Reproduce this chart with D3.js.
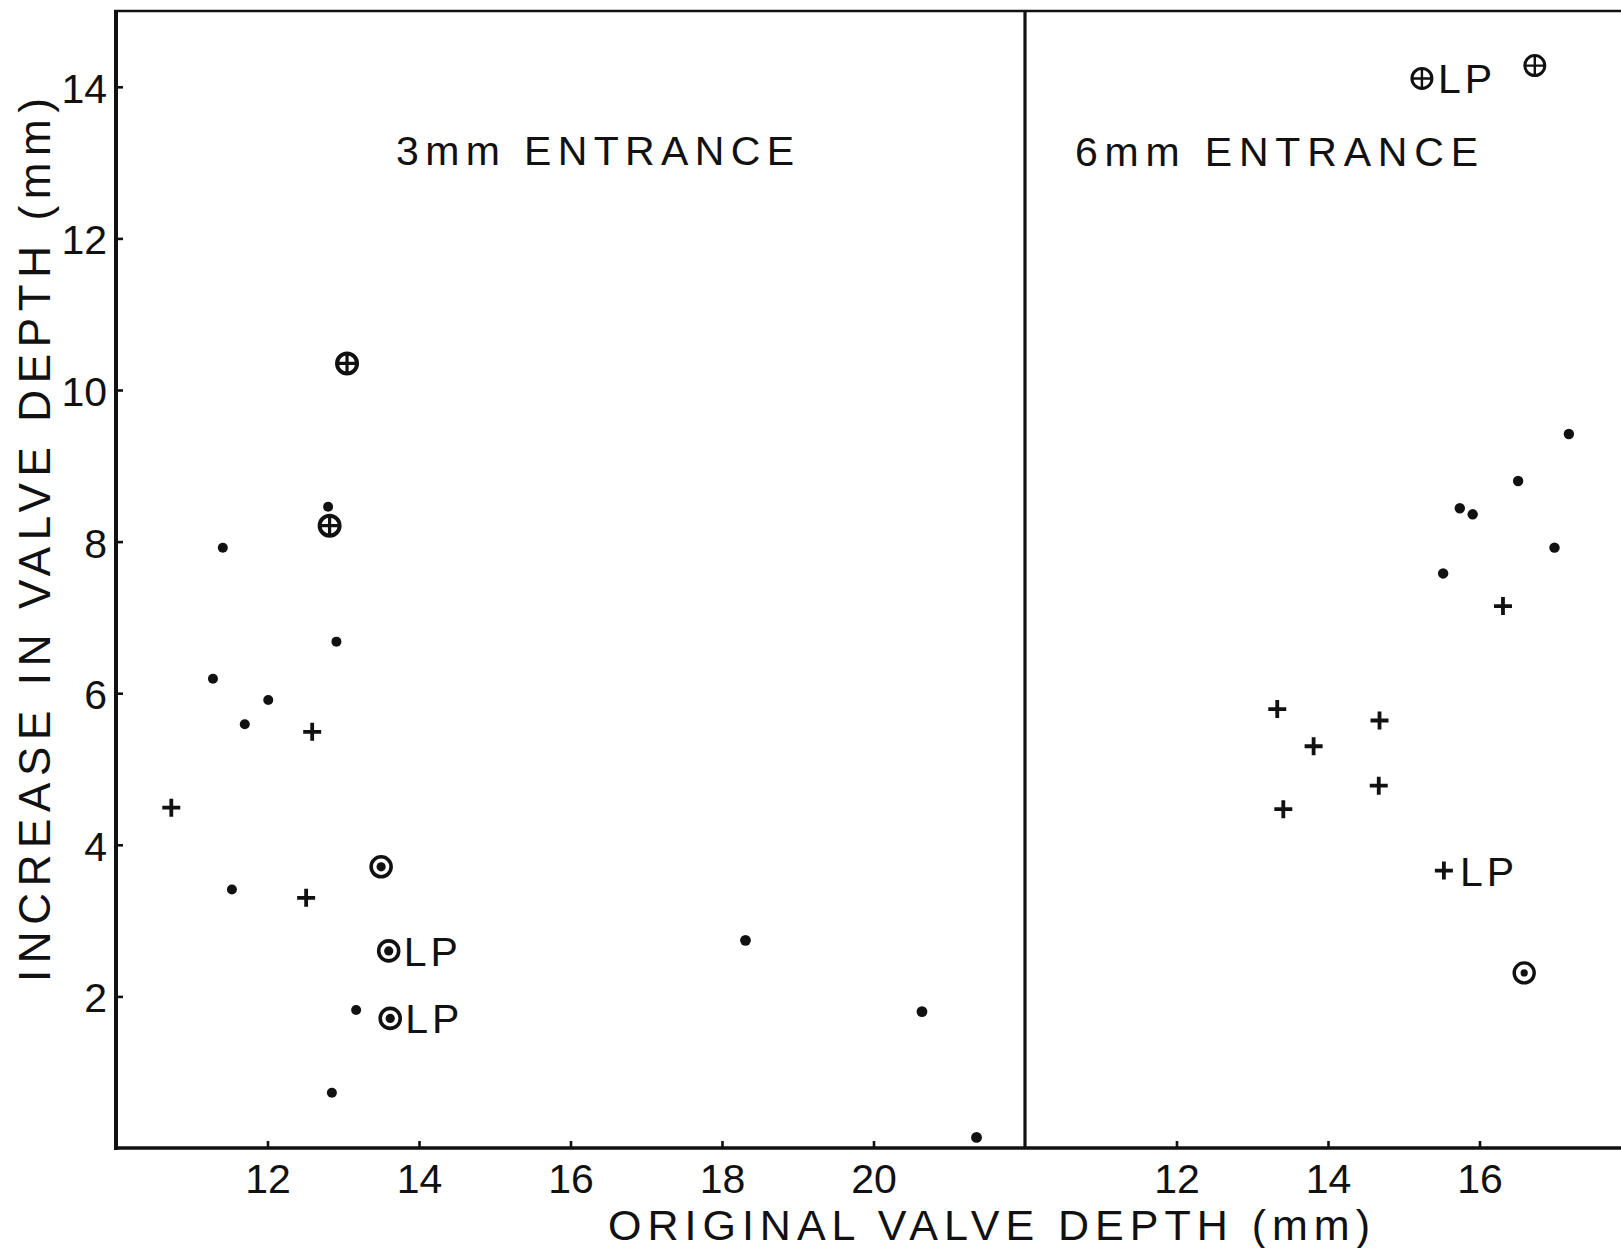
<!DOCTYPE html>
<html>
<head>
<meta charset="utf-8">
<script src="https://cdn.jsdelivr.net/npm/d3@7/dist/d3.min.js"></script>
<style>
  html, body { margin: 0; padding: 0; background: #fff; }
  svg { display: block; }
  text { font-family: "Liberation Sans", "DejaVu Sans", sans-serif; fill: #111; }
</style>
</head>
<body>
<svg id="chart" width="1621" height="1248"></svg>
<script>
// ---- Data: [original depth, increase in depth, label] ----
// 3 mm entrance panel
const dots3mm = [
  [12.80, 8.46], [11.41, 7.92], [12.91, 6.68], [11.28, 6.19], [12.01, 5.91],
  [11.70, 5.59], [11.53, 3.41], [13.17, 1.82], [12.85, 0.73],
  [18.31, 2.74], [20.64, 1.80], [21.36, 0.14]
];
const plus3mm = [[12.59, 5.49], [10.73, 4.49], [12.51, 3.30]];
const crossCircle3mm = [[13.05, 10.35], [12.82, 8.21]];
const dotCircle3mm = [[13.50, 3.71], [13.60, 2.60, "LP"], [13.62, 1.71, "LP"]];

// 6 mm entrance panel
const dots6mm = [[17.18, 9.42], [16.51, 8.80], [15.74, 8.44], [15.91, 8.36], [16.99, 7.92], [15.52, 7.58]];
const plus6mm = [
  [16.31, 7.15], [13.33, 5.79], [14.68, 5.64], [13.81, 5.30],
  [14.67, 4.78], [13.41, 4.47], [15.53, 3.66, "LP"]
];
const crossCircle6mm = [[15.24, 14.11, "LP"], [16.73, 14.28]];
const dotCircle6mm = [[16.59, 2.31]];

// Axis ticks and text
const yTicks = [2, 4, 6, 8, 10, 12, 14];
const xTicks3mm = [12, 14, 16, 18, 20];
const xTicks6mm = [12, 14, 16];
const panelTitles = ["3mm ENTRANCE", "6mm ENTRANCE"];
const xTitle = "ORIGINAL VALVE DEPTH (mm)";
const yTitle = "INCREASE IN VALVE DEPTH (mm)";

// ---- Layout ----
const svg = d3.select("#chart");
const ink = "#111";
const y = d3.scaleLinear().domain([0, 15]).range([1148, 11]);
const xL = d3.scaleLinear().domain([10, 22]).range([116, 1025]);
const xR = d3.scaleLinear().domain([10, 18]).range([1025, 1631]);

// Frame: left axis, bottom axis, top border and the panel divider
const frame = svg.append("g").attr("stroke", ink).attr("fill", "none");
frame.append("line").attr("x1", xL(10)).attr("x2", xL(10)).attr("y1", y(15) - 1).attr("y2", y(0) + 2).attr("stroke-width", 4);
frame.append("line").attr("x1", xL(10) - 2).attr("x2", 1621).attr("y1", y(0)).attr("y2", y(0)).attr("stroke-width", 3.5);
frame.append("line").attr("x1", xL(10) - 2).attr("x2", 1621).attr("y1", y(15)).attr("y2", y(15)).attr("stroke-width", 2.6);
frame.append("line").attr("x1", xL(22)).attr("x2", xL(22)).attr("y1", y(15)).attr("y2", y(0)).attr("stroke-width", 3.2);

// Axes
function styleAxis(g) {
  g.select(".domain").remove();
  g.selectAll(".tick line").attr("stroke", ink).attr("stroke-width", 2.6);
  g.selectAll(".tick text")
    .attr("fill", ink)
    .style("font-family", '"Liberation Sans", "DejaVu Sans", sans-serif')
    .style("font-size", "41px");
}

svg.append("g")
  .attr("transform", `translate(${xL(10)},0)`)
  .call(d3.axisLeft(y).tickValues(yTicks).tickSize(-7).tickPadding(9).tickFormat(d3.format("d")))
  .call(styleAxis)
  .selectAll(".tick text").attr("dy", "0.38em");

svg.append("g")
  .attr("transform", `translate(0,${y(0)})`)
  .call(d3.axisBottom(xL).tickValues(xTicks3mm).tickSize(-7).tickPadding(16).tickFormat(d3.format("d")))
  .call(styleAxis);

svg.append("g")
  .attr("transform", `translate(0,${y(0)})`)
  .call(d3.axisBottom(xR).tickValues(xTicks6mm).tickSize(-7).tickPadding(16).tickFormat(d3.format("d")))
  .call(styleAxis);

// Axis titles
svg.append("text")
  .attr("x", 989).attr("y", 1240)
  .attr("text-anchor", "middle")
  .attr("textLength", 762).attr("lengthAdjust", "spacing")
  .style("font-size", "43px")
  .text(xTitle);

svg.append("text")
  .attr("transform", "translate(50,540) rotate(-90)")
  .attr("text-anchor", "middle")
  .attr("textLength", 884).attr("lengthAdjust", "spacing")
  .style("font-size", "44px")
  .text(yTitle);

// Panel titles
svg.append("text").attr("x", 396).attr("y", 165)
  .attr("textLength", 398).attr("lengthAdjust", "spacing")
  .style("font-size", "41px").text(panelTitles[0]);
svg.append("text").attr("x", 1075).attr("y", 166)
  .attr("textLength", 403).attr("lengthAdjust", "spacing")
  .style("font-size", "41px").text(panelTitles[1]);

// ---- Markers ----
function drawDots(data, x, r) {
  svg.append("g").selectAll("circle").data(data).join("circle")
    .attr("cx", d => x(d[0])).attr("cy", d => y(d[1])).attr("r", r).attr("fill", ink);
}

function drawPlus(data, x, half, sw) {
  const g = svg.append("g").attr("stroke", ink).attr("stroke-width", sw);
  g.selectAll("path").data(data).join("path")
    .attr("d", d => {
      const cx = x(d[0]), cy = y(d[1]);
      return `M${cx - half},${cy}H${cx + half}M${cx},${cy - half}V${cy + half}`;
    });
}

function drawCrossCircle(data, x, r, sw) {
  const g = svg.append("g").attr("stroke", ink).attr("fill", "none").attr("stroke-width", sw);
  g.selectAll("circle").data(data).join("circle")
    .attr("cx", d => x(d[0])).attr("cy", d => y(d[1])).attr("r", r);
  g.selectAll("path").data(data).join("path")
    .attr("stroke-width", sw * 0.8)
    .attr("d", d => {
      const cx = x(d[0]), cy = y(d[1]);
      return `M${cx - r},${cy}H${cx + r}M${cx},${cy - r}V${cy + r}`;
    });
}

function drawDotCircle(data, x, r, sw, inner) {
  const g = svg.append("g");
  g.selectAll("circle.ring").data(data).join("circle").attr("class", "ring")
    .attr("cx", d => x(d[0])).attr("cy", d => y(d[1])).attr("r", r)
    .attr("fill", "none").attr("stroke", ink).attr("stroke-width", sw);
  g.selectAll("circle.core").data(data).join("circle").attr("class", "core")
    .attr("cx", d => x(d[0])).attr("cy", d => y(d[1])).attr("r", inner).attr("fill", ink);
}

function drawLabels(data, x, offset) {
  svg.append("g").selectAll("text").data(data.filter(d => d[2])).join("text")
    .attr("x", d => x(d[0]) + offset).attr("y", d => y(d[1]) + 15)
    .attr("letter-spacing", 4)
    .style("font-size", "41px")
    .text(d => d[2]);
}

// 3 mm panel
drawDots(dots3mm.slice(0, 9), xL, 5);
drawDots(dots3mm.slice(9), xL, 5.4);
drawPlus(plus3mm, xL, 9, 3.8);
drawCrossCircle(crossCircle3mm, xL, 10, 4);
drawDotCircle(dotCircle3mm, xL, 10, 3.6, 4.6);
drawLabels(dotCircle3mm, xL, 15);

// 6 mm panel
drawDots(dots6mm, xR, 5.2);
drawPlus(plus6mm, xR, 9, 3.8);
drawCrossCircle(crossCircle6mm, xR, 10, 3);
drawDotCircle(dotCircle6mm, xR, 10, 3.4, 3.6);
drawLabels(crossCircle6mm, xR, 16);
drawLabels(plus6mm, xR, 16);
</script>
</body>
</html>
